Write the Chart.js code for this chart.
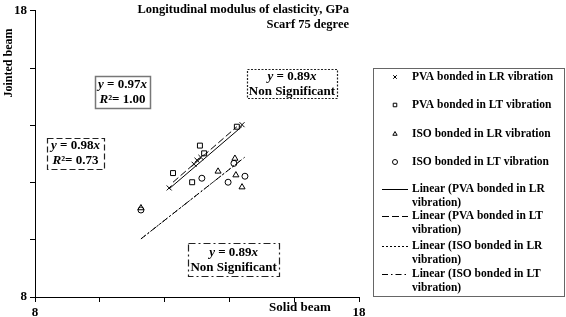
<!DOCTYPE html>
<html>
<head>
<meta charset="utf-8">
<script src="https://cdn.jsdelivr.net/npm/chart.js@4/dist/chart.umd.min.js"></script>
<style>
  html, body { margin: 0; padding: 0; background: #fff; }
  #wrap { width: 566px; height: 317px; position: relative; }
</style>
</head>
<body>
<div id="wrap"><canvas id="mainChart"></canvas></div>
<script>
// Values (Solid beam vs Jointed beam, GPa)
const titleLines = ["Longitudinal modulus of elasticity, GPa", "Scarf 75 degree"];
const xTitle = "Solid beam";
const yTitle = "Jointed beam";
const axisMin = 8;
const axisMax = 18;
const tickStep = 2;

const pvaLR = [
  { x: 12.14, y: 11.81 }, { x: 12.91, y: 12.64 }, { x: 13.0, y: 12.78 },
  { x: 13.12, y: 12.88 }, { x: 14.39, y: 14.02 }
];
const pvaLT = [
  { x: 12.26, y: 12.33 }, { x: 12.85, y: 12.01 }, { x: 13.09, y: 13.29 },
  { x: 13.22, y: 13.02 }, { x: 14.23, y: 13.95 }
];
const isoLR = [
  { x: 11.27, y: 11.11 }, { x: 13.65, y: 12.39 }, { x: 14.17, y: 12.84 },
  { x: 14.2, y: 12.26 }, { x: 14.39, y: 11.84 }
];
const isoLT = [
  { x: 11.27, y: 11.04 }, { x: 13.15, y: 12.15 }, { x: 13.96, y: 12.01 },
  { x: 14.14, y: 12.67 }, { x: 14.48, y: 12.22 }
];

// trend line end points as drawn in the picture
const fitPvaLR = [{ x: 12.14, y: 11.78 }, { x: 14.39, y: 13.96 }];
const fitPvaLT = [{ x: 12.26, y: 12.01 }, { x: 14.23, y: 13.95 }];
const fitIsoLR = [{ x: 11.27, y: 10.03 }, { x: 14.39, y: 12.81 }];
const fitIsoLT = [{ x: 11.27, y: 10.03 }, { x: 14.48, y: 12.89 }];

const seriesLabels = [
  "PVA bonded in LR vibration",
  "PVA bonded in LT vibration",
  "ISO bonded in LR vibration",
  "ISO bonded in LT vibration",
  "Linear (PVA bonded in LR vibration)",
  "Linear (PVA bonded in LT vibration)",
  "Linear (ISO bonded in LR vibration)",
  "Linear (ISO bonded in LT vibration)"
];

// equation boxes: text parts, [text, italic?] segments
const eqBoxes = [
  { at: { x: 10.7, y: 15.16 }, w: 55, h: 32, dash: [], stroke: "#777", lineW: 1.5,
    lines: [[["y", 1], [" = 0.97", 0], ["x", 1]], [["R", 1], ["\u00b2", 0], ["= 1.00", 0]]] },
  { at: { x: 9.25, y: 13.03 }, w: 57, h: 31, dash: [6, 3], stroke: "#222", lineW: 1.2,
    lines: [[["y", 1], [" = 0.98", 0], ["x", 1]], [["R", 1], ["\u00b2", 0], ["= 0.73", 0]]] },
  { at: { x: 15.93, y: 15.46 }, w: 90, h: 29, dash: [2, 1.5], stroke: "#222", lineW: 1.2,
    lines: [[["y", 1], [" = 0.89", 0], ["x", 1]], [["Non Significant", 0]]] },
  { at: { x: 14.13, y: 9.3 }, w: 91, h: 33, dash: [7, 3, 2, 3], stroke: "#222", lineW: 1.2,
    lines: [[["y", 1], [" = 0.89", 0], ["x", 1]], [["Non Significant", 0]]] }
];

const SERIF = "'Liberation Serif', 'Times New Roman', serif";

function markerSet(label, data, style, r) {
  return {
    label, data, pointStyle: style, pointRadius: r, pointHoverRadius: r,
    pointBorderWidth: 1, borderColor: "#000", backgroundColor: "rgba(0,0,0,0)",
    showLine: false
  };
}
function fitSet(label, data, dash) {
  return {
    label, data, showLine: true, borderColor: "#000", borderWidth: 1,
    borderDash: dash, pointRadius: 0, pointHoverRadius: 0, fill: false
  };
}

function drawRich(ctx, parts, cx, cy, size) {
  let total = 0;
  parts.forEach(([t, it]) => {
    ctx.font = (it ? "italic " : "") + "bold " + size + "px " + SERIF;
    total += ctx.measureText(t).width;
  });
  let x = cx - total / 2;
  ctx.textAlign = "left";
  ctx.textBaseline = "middle";
  parts.forEach(([t, it]) => {
    ctx.font = (it ? "italic " : "") + "bold " + size + "px " + SERIF;
    ctx.fillText(t, x, cy);
    x += ctx.measureText(t).width;
  });
}

function wrapText(ctx, text, maxW) {
  const words = text.split(" ");
  const out = [];
  let line = "";
  words.forEach(w => {
    const test = line ? line + " " + w : w;
    if (ctx.measureText(test).width > maxW && line) {
      out.push(line);
      line = w;
    } else line = test;
  });
  out.push(line);
  return out;
}

const overlayPlugin = {
  id: "overlay",
  afterDraw(chart) {
    const ctx = chart.ctx;
    const xs = chart.scales.x, ys = chart.scales.y;
    ctx.save();
    ctx.fillStyle = "#000";

    // title inside the plot, right aligned
    ctx.font = "bold 12.5px " + SERIF;
    ctx.textAlign = "right";
    ctx.textBaseline = "middle";
    ctx.fillText(titleLines[0], 349, 10);
    ctx.fillText(titleLines[1], 349, 25);

    // axis titles
    ctx.font = "bold 13px " + SERIF;
    ctx.textAlign = "center";
    ctx.fillText(xTitle, 300, 308);
    ctx.save();
    ctx.font = "bold 12px " + SERIF;
    ctx.translate(9, 63);
    ctx.rotate(-Math.PI / 2);
    ctx.fillText(yTitle, 0, 0);
    ctx.restore();

    // equation boxes
    eqBoxes.forEach(b => {
      const cx = xs.getPixelForValue(b.at.x);
      const cy = ys.getPixelForValue(b.at.y);
      ctx.save();
      ctx.setLineDash(b.dash);
      ctx.strokeStyle = b.stroke;
      ctx.lineWidth = b.lineW;
      ctx.strokeRect(Math.round(cx - b.w / 2) + 0.5, Math.round(cy - b.h / 2) + 0.5, b.w, b.h);
      ctx.restore();
      ctx.fillStyle = "#000";
      drawRich(ctx, b.lines[0], cx, cy - 7, 13);
      drawRich(ctx, b.lines[1], cx, cy + 8, 13);
    });

    // legend
    ctx.save();
    ctx.strokeStyle = "#666";
    ctx.lineWidth = 1;
    ctx.setLineDash([]);
    ctx.strokeRect(373.5, 68.5, 191, 228);
    ctx.restore();

    const rowsY = [77, 105, 134, 162, 189, 216, 246, 274];
    ctx.textAlign = "left";
    ctx.textBaseline = "middle";
    chart.data.datasets.forEach((ds, i) => {
      const y = rowsY[i];
      ctx.save();
      ctx.strokeStyle = "#000";
      ctx.fillStyle = "rgba(0,0,0,0)";
      if (ds.showLine) {
        ctx.lineWidth = 1;
        ctx.setLineDash(ds.borderDash || []);
        ctx.beginPath();
        ctx.moveTo(382, y + 0.5);
        ctx.lineTo(408, y + 0.5);
        ctx.stroke();
      } else {
        ctx.lineWidth = 1;
        Chart.helpers.drawPoint(ctx, {
          pointStyle: ds.pointStyle, radius: 2.5, borderWidth: 1, rotation: 0
        }, 395, y);
      }
      ctx.restore();
      ctx.fillStyle = "#000";
      ctx.font = "bold 11.5px " + SERIF;
      const lines = wrapText(ctx, ds.label, 148);
      lines.forEach((l, k) => ctx.fillText(l, 412, y + k * 14));
    });
    ctx.restore();
  }
};

const axisCommon = {
  type: "linear",
  min: axisMin,
  max: axisMax,
  border: { color: "#000", width: 1 },
  grid: { drawOnChartArea: false, color: "#000", tickLength: 5, tickWidth: 1 },
  ticks: {
    stepSize: tickStep,
    autoSkip: false,
    color: "#000",
    padding: 3,
    maxRotation: 0,
    font: { family: SERIF, size: 13, weight: "bold" },
    callback: v => (v === axisMin || v === axisMax ? String(v) : "")
  }
};

new Chart(document.getElementById("mainChart"), {
  type: "scatter",
  data: {
    datasets: [
      markerSet(seriesLabels[0], pvaLR, "crossRot", 3.5),
      markerSet(seriesLabels[1], pvaLT, "rect", 3.5),
      markerSet(seriesLabels[2], isoLR, "triangle", 3.5),
      markerSet(seriesLabels[3], isoLT, "circle", 3),
      fitSet(seriesLabels[4], fitPvaLR, []),
      fitSet(seriesLabels[5], fitPvaLT, [7, 3]),
      fitSet(seriesLabels[6], fitIsoLR, [2, 2]),
      fitSet(seriesLabels[7], fitIsoLT, [6, 3, 1.5, 3])
    ]
  },
  options: {
    responsive: true,
    maintainAspectRatio: false,
    animation: false,
    layout: { padding: { top: 8, right: 207, left: 0, bottom: 0 } },
    plugins: {
      legend: { display: false },
      title: { display: false },
      tooltip: { enabled: false }
    },
    scales: {
      x: Object.assign({}, axisCommon, { afterFit: s => { s.height = 20; } }),
      y: Object.assign({}, axisCommon, { afterFit: s => { s.width = 35; } })
    }
  },
  plugins: [overlayPlugin]
});
</script>
</body>
</html>
